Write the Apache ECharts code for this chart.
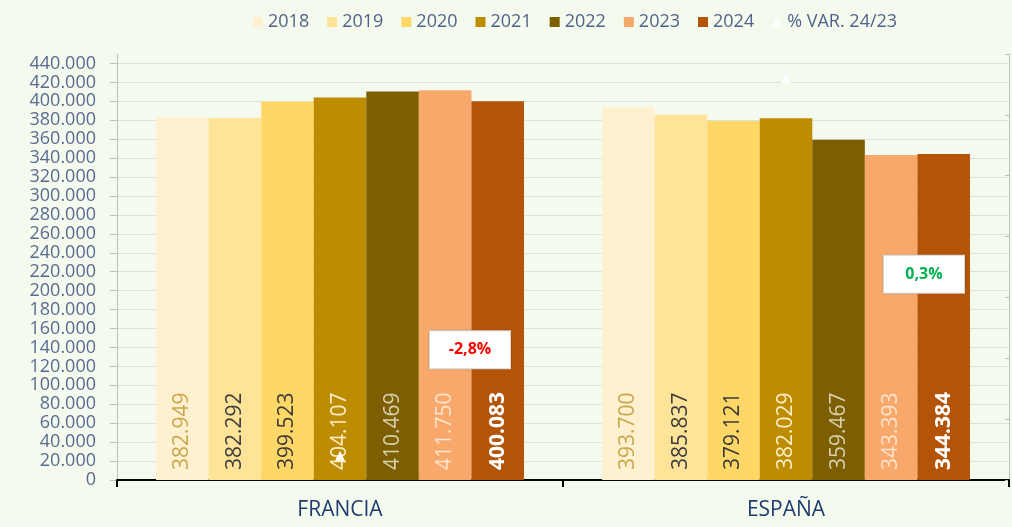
<!DOCTYPE html>
<html><head><meta charset="utf-8">
<script src="https://cdn.jsdelivr.net/npm/echarts@6/dist/echarts.min.js"></script>
<style>html,body{margin:0;padding:0;background:#F4FBEE;}#c{width:1012px;height:527px;}</style>
</head><body><div id="c"></div>
<script>
const categories = ['FRANCIA', 'ESPAÑA'];
const years = ['2018', '2019', '2020', '2021', '2022', '2023', '2024'];
const v2018 = [382949, 393700];
const v2019 = [382292, 385837];
const v2020 = [399523, 379121];
const v2021 = [404107, 382029];
const v2022 = [410469, 359467];
const v2023 = [411750, 343393];
const v2024 = [400083, 344384];
const varName = '% VAR. 24/23';
const varValues = [-0.028, 0.003];
const varLabels = ['-2,8%', '0,3%'];

const yearValues = [v2018, v2019, v2020, v2021, v2022, v2023, v2024];
const barColors = ['#FFF0CF', '#FFE399', '#FFD766', '#BD8C00', '#7D5E00', '#F7A86A', '#B35408'];
const labelColors = ['#C9A64C', '#3D3D3D', '#3A3A3A', '#FBEFC9', '#D8D0AE', '#FFE3CE', '#FFFFFF'];
const fmt = v => v === 0 ? '0' : String(v).replace(/\B(?=(\d{3})+(?!\d))/g, '.');

const series = years.map((y, i) => ({
  name: y, type: 'bar', yAxisIndex: 0,
  data: yearValues[i],
  barGap: '0%', barCategoryGap: '17.5%',
  itemStyle: { color: barColors[i] },
  label: {
    show: true, position: 'insideBottom', rotate: 90, align: 'left', verticalAlign: 'middle',
    distance: 10, formatter: p => fmt(p.value),
    fontFamily: "'Open Sans', sans-serif",
    fontSize: 21, fontWeight: i === 6 ? 'bold' : 'normal', color: labelColors[i]
  }
}));
const varOffsets = [[130, -106], [138, 196]];
const varColors = ['#FF0000', '#00B050'];
series.push({
  name: varName, type: 'line', yAxisIndex: 1, z: 10,
  symbol: 'triangle', symbolSize: 10,
  itemStyle: { color: '#FFFFFF' },
  lineStyle: { width: 0, opacity: 0 },
  data: varValues.map((v, i) => ({
    value: v,
    label: {
      show: true, position: 'inside', offset: varOffsets[i], formatter: varLabels[i],
      color: varColors[i], fontWeight: 'bold', fontSize: 16, fontFamily: "'Open Sans', sans-serif",
      backgroundColor: '#FFFFFF', width: 80, height: 37, lineHeight: 37, align: 'center', verticalAlign: 'middle',
      borderColor: '#E0E0E0', borderWidth: 1, shadowColor: 'rgba(0,0,0,0.15)', shadowBlur: 2
    }
  }))
});

const chart = echarts.init(document.getElementById('c'));
chart.setOption({
  backgroundColor: '#F4FBEE',
  animation: false,
  textStyle: { fontFamily: "'Open Sans', sans-serif" },
  legend: {
    left: 248, top: 8, itemWidth: 10, itemHeight: 10, itemGap: 18,
    textStyle: { fontSize: 18, color: '#52628A', fontFamily: "'Open Sans', sans-serif" },
    data: years.map(y => ({ name: y, icon: 'rect' })).concat([{ name: varName, icon: 'triangle', itemStyle: { color: '#FFFFFF' } }])
  },
  grid: { left: 117, right: 3, top: 54, bottom: 47 },
  xAxis: {
    type: 'category', data: categories,
    axisLine: { lineStyle: { color: '#000000', width: 2 } },
    axisTick: { show: true, length: 7, lineStyle: { color: '#000000', width: 2 } },
    axisLabel: { margin: 20, fontSize: 21, color: '#1F3A6E', fontFamily: "'Open Sans', sans-serif" }
  },
  yAxis: [{
    type: 'value', min: 0, max: 450000, interval: 20000, position: 'left',
    axisLine: { show: true, lineStyle: { color: '#BFBFBF' } },
    axisTick: { show: true, length: 7, lineStyle: { color: '#BFBFBF' } },
    axisLabel: { margin: 21, fontSize: 18, color: '#5A6A90', formatter: fmt, showMaxLabel: false, lineHeight: 18 },
    splitLine: { show: true, showMaxLine: false, lineStyle: { color: '#DCE3D4' } }
  }, {
    type: 'value', min: -0.03, max: 0.005, interval: 0.005, position: 'right',
    axisLine: { show: true, lineStyle: { color: '#BFBFBF' } },
    axisTick: { show: true, inside: true, length: 4, lineStyle: { color: '#BFBFBF' } },
    axisLabel: { show: false },
    splitLine: { show: false }
  }],
  series: series
});
</script></body></html>
